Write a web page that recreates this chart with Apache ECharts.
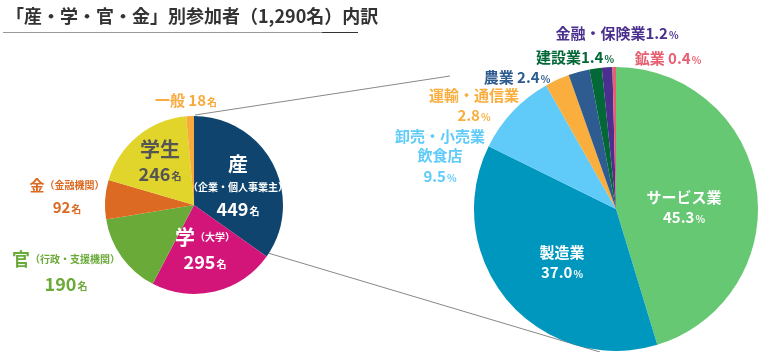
<!DOCTYPE html>
<html>
<head>
<meta charset="utf-8">
<script src="https://cdn.jsdelivr.net/npm/echarts@6/dist/echarts.min.js"></script>
<style>
  html, body { margin: 0; padding: 0; background: #fff; }
  #chart { width: 760px; height: 352px; }
</style>
</head>
<body>
<div id="chart"></div>
<script>
const FONT = '"Noto Sans CJK JP", "Noto Sans", sans-serif';

// left pie: participants by sector
const leftNames = ['産', '学', '官', '金', '学生', '一般'];
const leftSubs = ['（企業・個人事業主）', '（大学）', '（行政・支援機関）', '（金融機関）', '', ''];
const leftValues = [449, 295, 190, 92, 246, 18];
const leftColors = ['#0e446e', '#d3157a', '#6aaa39', '#dc6a22', '#e1d52b', '#f8ab3c'];
const leftTextColors = ['#fff', '#fff', '#6aaa39', '#dc6a22', '#555', '#f8ab3c'];

// right pie: breakdown of 産 by industry (%)
const rightNames = ['サービス業', '製造業', '卸売・小売業\n飲食店', '運輸・通信業', '農業', '建設業', '金融・保険業', '鉱業'];
const rightValues = [45.3, 37.0, 9.5, 2.8, 2.4, 1.4, 1.2, 0.4];
const rightColors = ['#66c873', '#0097bf', '#60cbf9', '#f9ae3e', '#2e5b90', '#036837', '#4b2f8f', '#e75f71'];
const rightTextColors = ['#fff', '#fff', '#60cbf9', '#f9ae3e', '#2e5b90', '#036837', '#4b2f8f', '#e75f71'];

// label anchor positions (centre of each label block)
const leftLabelPos = [[238, 186], [205, 249], [66, 271], [67, 196], [160, 161], [186, 100]];
const rightLabelPos = [[684, 208], [562, 263], [440, 157], [474, 106], [517, 77], [575, 57], [617, 33], [668, 58]];

const chart = echarts.init(document.getElementById('chart'));

function leftLabel(i) {
  const n = leftNames[i], s = leftSubs[i], v = leftValues[i];
  if (i === 0) return `{big|${n}}\n{sub|${s}}\n{num|${v}}{unit|名}`;
  if (i === 4) return `{big|${n}}\n{num|${v}}{unit|名}`;
  if (i === 5) return `{mid|${n} }{sm|${v}}{unit|名}`;
  if (i === 3) return `{mid|${n}}{sub|${s}}\n{sm|${v}}{unit|名}`;
  return `{big|${n}}{sub|${s}}\n{num|${v}}{unit|名}`;
}

function rightLabel(i) {
  const n = rightNames[i], v = rightValues[i].toFixed(1);
  if (i === 7 || i === 4) return `{name|${n} }{num|${v}}{unit|%}`;
  if (i >= 4) return `{name|${n}}{num|${v}}{unit|%}`;
  return n.split('\n').map(t => `{name|${t}}`).join('\n') + `\n{num|${v}}{unit|%}`;
}

function richFor(color, big) {
  return {
    big: { fontSize: big, fontWeight: 'bold', color, fontFamily: FONT, lineHeight: 26 },
    mid: { fontSize: 15, fontWeight: 'bold', color, fontFamily: FONT, lineHeight: 22 },
    sub: { fontSize: 10, fontWeight: 'bold', color, fontFamily: FONT, lineHeight: 20 },
    num: { fontSize: 18, fontWeight: 'bold', color, fontFamily: FONT, lineHeight: 24 },
    sm: { fontSize: 15, fontWeight: 'bold', color, fontFamily: FONT, lineHeight: 22 },
    unit: { fontSize: 10, fontWeight: 'bold', color, fontFamily: FONT, lineHeight: 20, padding: [4, 0, 0, 1] },
    name: { fontSize: 15, fontWeight: 'bold', color, fontFamily: FONT, lineHeight: 19 }
  };
}

const leftData = leftNames.map((n, i) => ({
  name: n,
  value: leftValues[i],
  itemStyle: { color: leftColors[i] },
  label: {
    formatter: leftLabel(i),
    rich: richFor(leftTextColors[i], i === 2 ? 18 : 20)
  }
}));

const rightData = rightNames.map((n, i) => ({
  name: n,
  value: rightValues[i],
  itemStyle: { color: rightColors[i] },
  label: {
    formatter: rightLabel(i),
    rich: Object.assign(richFor(rightTextColors[i], 20), i >= 4 ? {
      num: { fontSize: 15, fontWeight: 'bold', color: rightTextColors[i], fontFamily: FONT }
    } : {
      num: { fontSize: 15, fontWeight: 'bold', color: rightTextColors[i], fontFamily: FONT, lineHeight: 22 }
    })
  }
}));

const option = {
  animation: false,
  title: {
    text: '「産・学・官・金」別参加者（1,290名）内訳',
    left: 1,
    top: 2,
    textStyle: { fontSize: 18, fontWeight: 'bold', color: '#333', fontFamily: FONT }
  },
  graphic: [
    { type: 'line', shape: { x1: 3, y1: 32.5, x2: 358, y2: 32.5 }, style: { stroke: '#999', lineWidth: 1 } },
    { type: 'line', shape: { x1: 322, y1: 32.5, x2: 358, y2: 32.5 }, style: { stroke: '#333', lineWidth: 1 } },
    { type: 'line', shape: { x1: 195, y1: 115, x2: 450, y2: 76 }, style: { stroke: '#888', lineWidth: 1 } },
    { type: 'line', shape: { x1: 268, y1: 253, x2: 600, y2: 352 }, style: { stroke: '#888', lineWidth: 1 } }
  ],
  series: [
    {
      type: 'pie',
      center: [194, 205],
      radius: 89,
      startAngle: 90,
      clockwise: true,
      label: { show: true, position: 'inside', fontFamily: FONT },
      labelLine: { show: false },
      labelLayout: p => {
        const pos = leftLabelPos[p.dataIndex];
        return { x: pos[0], y: pos[1], align: 'center', verticalAlign: 'middle' };
      },
      emphasis: { disabled: true },
      data: leftData
    },
    {
      type: 'pie',
      center: [616, 209],
      radius: 142,
      startAngle: 90,
      clockwise: true,
      label: { show: true, position: 'inside', fontFamily: FONT },
      labelLine: { show: false },
      labelLayout: p => {
        const pos = rightLabelPos[p.dataIndex];
        return { x: pos[0], y: pos[1], align: 'center', verticalAlign: 'middle' };
      },
      emphasis: { disabled: true },
      data: rightData
    }
  ]
};

chart.setOption(option);
</script>
</body>
</html>
